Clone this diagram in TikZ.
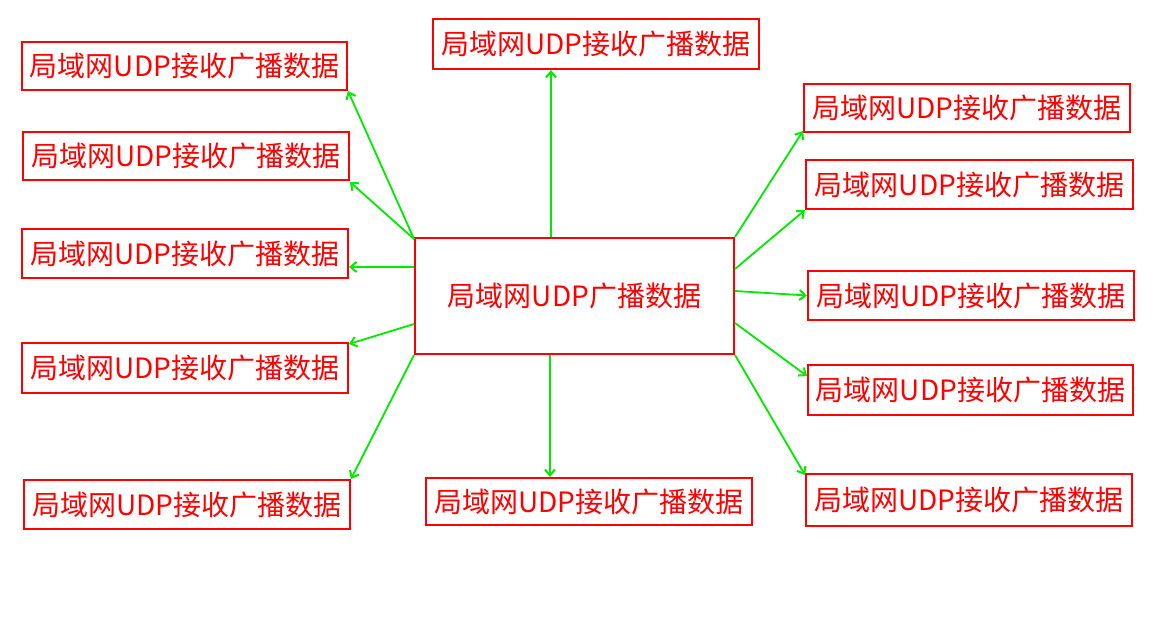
\documentclass[tikz,border=0pt]{standalone}
\usepackage{fontspec}
\newfontfamily\cjk{Noto Sans CJK SC}
\usetikzlibrary{arrows.meta}
\definecolor{lineg}{RGB}{0,235,0}
\tikzset{
  box/.style={draw=red, line width=2pt, text=red, inner sep=0pt, font=\cjk\fontsize{28}{32}\selectfont},
  conn/.style={draw=lineg, line width=1.8pt, -{Straight Barb[length=6pt,width=10pt,line width=2pt]}}
}
\begin{document}
\begin{tikzpicture}[x=1pt,y=-1pt]
\useasboundingbox (0,0) rectangle (1161,618);
\fill[white] (0,0) rectangle (1161,618);
\newcommand{\txt}{局域网UDP接收广播数据}
\node[box, minimum width=319pt, minimum height=116pt] (c) at (574.5,296) {局域网UDP广播数据};
\node[box, minimum width=326pt, minimum height=50pt] (t) at (596,44) {\txt};
\node[box, minimum width=326pt, minimum height=47pt] (b) at (589,501.5) {\txt};
\node[box, minimum width=325pt, minimum height=48pt] (l1) at (184.5,66) {\txt};
\node[box, minimum width=326pt, minimum height=48pt] (l2) at (186,156) {\txt};
\node[box, minimum width=326pt, minimum height=49pt] (l3) at (185,253.5) {\txt};
\node[box, minimum width=326pt, minimum height=50pt] (l4) at (185,368) {\txt};
\node[box, minimum width=326pt, minimum height=49pt] (l5) at (187,504.5) {\txt};
\node[box, minimum width=326pt, minimum height=48pt] (r1) at (967,108) {\txt};
\node[box, minimum width=327pt, minimum height=49pt] (r2) at (969.5,184.5) {\txt};
\node[box, minimum width=326pt, minimum height=49pt] (r3) at (971,295.5) {\txt};
\node[box, minimum width=325pt, minimum height=50pt] (r4) at (970.5,390) {\txt};
\node[box, minimum width=326pt, minimum height=52pt] (r5) at (969,500) {\txt};
% connectors
\draw[conn] ([xshift=-23.5pt]c.north) -- ([xshift=-45pt]t.south);
\draw[conn] ([xshift=-24.5pt]c.south) -- ([xshift=-39pt]b.north);
\draw[conn] ([yshift=-2pt]c.north west) -- (l1.south east);
\draw[conn] ([yshift=-2pt]c.north west) -- ([yshift=-1pt]l2.south east);
\draw[conn] ([yshift=-30pt]c.north west) -- ([yshift=-39pt]l3.north east);
\draw[conn] ([yshift=31pt]c.south west) -- ([yshift=-2pt]l4.north east);
\draw[conn] (c.south west) -- (l5.north east);
\draw[conn] (c.north east) -- ([yshift=2pt]r1.south west);
\draw[conn] ([yshift=-32pt]c.north east) -- (r2.south west);
\draw[conn] ([yshift=-54pt]c.north east) -- (r3.west);
\draw[conn] ([yshift=32pt]c.south east) -- ([yshift=-12pt]r4.north west);
\draw[conn] (c.south east) -- ([yshift=-2pt]r5.north west);
\end{tikzpicture}
\end{document}
